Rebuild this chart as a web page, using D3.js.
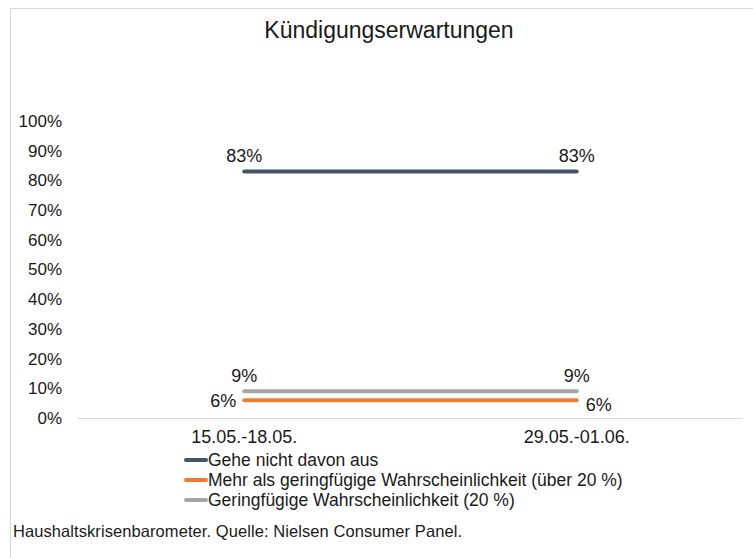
<!DOCTYPE html>
<html>
<head>
<meta charset="utf-8">
<script src="https://cdn.jsdelivr.net/npm/d3@7"></script>
<style>
  body { margin: 0; background: #fff; }
  text { font-family: "Liberation Sans", Arial, sans-serif; fill: #1a1a1a; }
</style>
</head>
<body>
<div id="chart"></div>
<script>
// data
var categories = ["15.05.-18.05.", "29.05.-01.06."];
var seriesNames = [
  "Gehe nicht davon aus",
  "Mehr als geringfügige Wahrscheinlichkeit (über 20 %)",
  "Geringfügige Wahrscheinlichkeit (20 %)"
];
var nichtValues = [0.83, 0.83];
var mehrValues = [0.06, 0.06];
var geringValues = [0.09, 0.09];
var yTicks = [0, 0.1, 0.2, 0.3, 0.4, 0.5, 0.6, 0.7, 0.8, 0.9, 1.0];
var colors = ["#44546A", "#ED7D31", "#A5A5A5"];

var W = 753, H = 558;
var margin = { left: 78, right: 10, top: 121, bottom: 140 };
var plotW = W - margin.left - margin.right,
    plotH = H - margin.top - margin.bottom;

var svg = d3.select("#chart").append("svg")
  .attr("width", W)
  .attr("height", H);

// outer frame (left + top only visible)
svg.append("path")
  .attr("d", "M10.5," + H + " V8.5 H" + W)
  .attr("fill", "none")
  .attr("stroke", "#d9d9d9");

svg.append("text")
  .attr("x", 389).attr("y", 38)
  .attr("text-anchor", "middle")
  .style("font-size", "23px")
  .text("Kündigungserwartungen");

var g = svg.append("g")
  .attr("transform", "translate(" + margin.left + "," + margin.top + ")");

var x = d3.scaleBand().domain(categories).range([0, plotW]);
var y = d3.scaleLinear().domain([0, 1]).range([plotH, 0]);

// y axis labels, no line
var yAxis = g.append("g")
  .call(d3.axisLeft(y).tickValues(yTicks).tickFormat(d3.format(".0%")).tickSize(0).tickPadding(16));
yAxis.select(".domain").remove();
yAxis.selectAll("text").style("font-size", "17px").attr("fill", "#1a1a1a");

// baseline
g.append("line")
  .attr("x1", 0).attr("x2", plotW)
  .attr("y1", plotH + 0.5).attr("y2", plotH + 0.5)
  .attr("stroke", "#d9d9d9");

// x labels
var xAxis = g.append("g")
  .attr("transform", "translate(0," + plotH + ")")
  .call(d3.axisBottom(x).tickSize(0).tickPadding(12));
xAxis.select(".domain").remove();
xAxis.selectAll("text").style("font-size", "18px").attr("fill", "#1a1a1a");

var cx = function(d, i) { return x(categories[i]) + x.bandwidth() / 2; };
var line = d3.line().x(cx).y(function(d) { return y(d); });

var series = [nichtValues, mehrValues, geringValues];
series.forEach(function(vals, s) {
  g.append("path")
    .attr("d", line(vals))
    .attr("fill", "none")
    .attr("stroke", colors[s])
    .attr("stroke-width", 4)
    .attr("stroke-linecap", "round");
});

// data labels
function labels(vals, pos) {
  vals.forEach(function(v, i) {
    var px = cx(v, i), py = y(v), dx = 0, dy = -9, anchor = "middle";
    var p = pos[i];
    if (p === "left") { dx = -8; dy = 7; anchor = "end"; }
    if (p === "right") { dx = 9; dy = 11; anchor = "start"; }
    g.append("text")
      .attr("x", px + dx).attr("y", py + dy)
      .attr("text-anchor", anchor)
      .style("font-size", "18px")
      .text(d3.format(".0%")(v));
  });
}
labels(nichtValues, ["above", "above"]);
labels(geringValues, ["above", "above"]);
labels(mehrValues, ["left", "right"]);

// legend
var legend = svg.append("g").attr("transform", "translate(185,460)");
seriesNames.forEach(function(name, i) {
  var row = legend.append("g").attr("transform", "translate(0," + i * 20 + ")");
  row.append("line")
    .attr("x1", 1).attr("x2", 21)
    .attr("stroke", colors[i]).attr("stroke-width", 4)
    .attr("stroke-linecap", "round");
  row.append("text")
    .attr("x", 23).attr("y", 6)
    .style("font-size", "17.5px")
    .text(name);
});

// footer
svg.append("text")
  .attr("x", 13).attr("y", 537)
  .attr("textLength", 449)
  .attr("lengthAdjust", "spacing")
  .style("font-size", "16.5px")
  .text("Haushaltskrisenbarometer. Quelle: Nielsen Consumer Panel.");
</script>
</body>
</html>
